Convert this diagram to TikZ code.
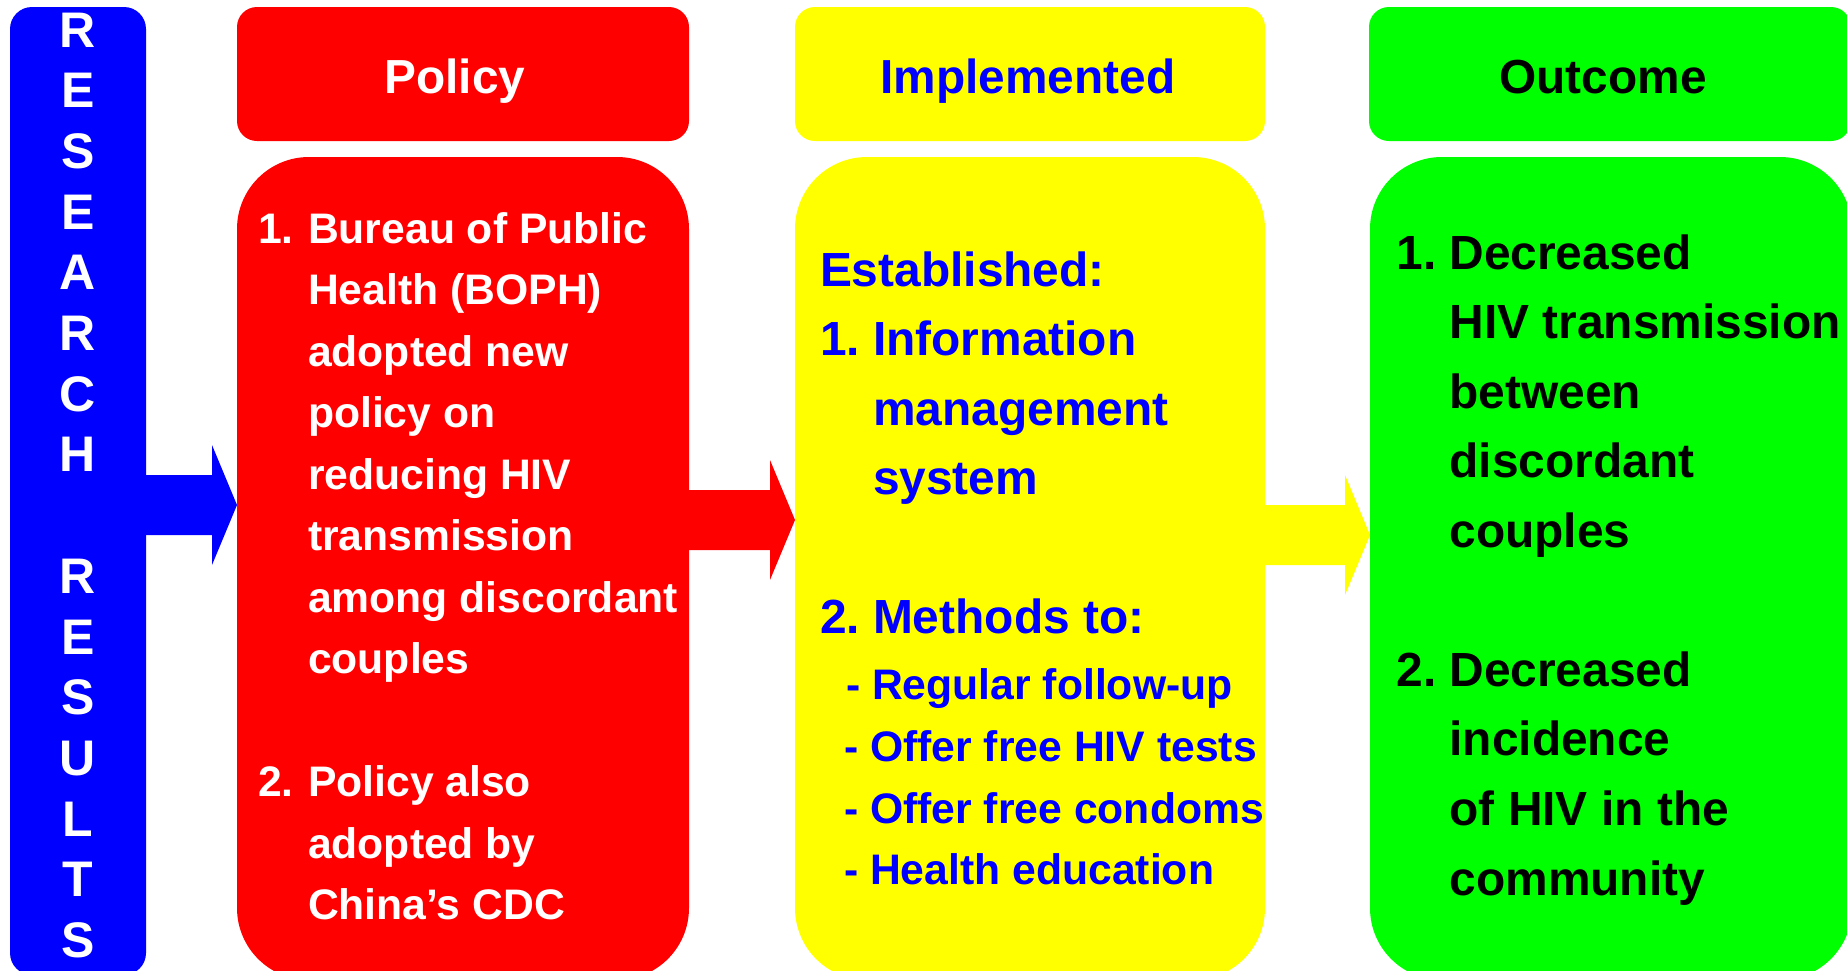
\documentclass[tikz,border=0pt]{standalone}
\usepackage{fontspec}
\setmainfont{Liberation Sans}
\usetikzlibrary{calc}
\definecolor{pred}{RGB}{255,0,0}
\definecolor{pyel}{RGB}{255,255,0}
\definecolor{pgrn}{RGB}{0,255,0}
\definecolor{pblu}{RGB}{0,0,255}
\newcommand\blockarr[4]{%
  \coordinate (#4s) at (#1.east |- 0,#3);
  \coordinate (#4e) at (#2.west |- 0,#3);
  \fill[#4col] ($(#4s)+(-1,-30)$) -- ($(#4e)+(-25,-30)$) -- ($(#4e)+(-25,-60)$) -- (#4e)
     -- ($(#4e)+(-25,60)$) -- ($(#4e)+(-25,30)$) -- ($(#4s)+(-1,30)$) -- cycle;}
\begin{document}
\begin{tikzpicture}[x=1pt,y=-1pt,
  box/.style={inner sep=0pt,outer sep=0pt,draw=none},
  hfont/.style={font=\fontsize{47.8}{57}\selectfont\bfseries},
  bfont/.style={font=\fontsize{47.9}{57}\selectfont\bfseries},
  sfont/.style={font=\fontsize{42.7}{50}\selectfont\bfseries},
  lfont/.style={font=\fontsize{50}{60}\selectfont\bfseries},
  ln/.style={anchor=base west,inner sep=0pt,outer sep=0pt},
  ttl/.style={anchor=base,inner sep=0pt,outer sep=0pt,hfont},
  a1col/.style={fill=pblu}, a2col/.style={fill=pred}, a3col/.style={fill=pyel}]
\useasboundingbox (0,0) rectangle (1847,970);
\clip (0,0) rectangle (1847,970);

% left bar
\node[box, fill=pblu, rounded corners=22, minimum width=136, minimum height=968] (bar) at (78,491) {};
\foreach \c [count=\i from 0] in {R,E,S,E,A,R,C,H,{},R,E,S,U,L,T,S}
  \node[anchor=base,inner sep=0pt,lfont,text=white] (lb\i) at (78,{47+60.7*\i}) {\c};

% headers
\node[box, fill=pred, rounded corners=20, minimum width=452, minimum height=134] (polhead) at (463,74) {};
\node[box, fill=pyel, rounded corners=20, minimum width=470, minimum height=134] (imphead) at (1030,74) {};
\node[box, fill=pgrn, rounded corners=20, minimum width=482, minimum height=134] (outhead) at (1610,74) {};
\node[ttl, text=white] (poltitle) at (455,93) {Policy};
\node[ttl, text=pblu] (imptitle) at (1028,93) {Implemented};
\node[ttl, text=black] (outtitle) at (1603,93) {Outcome};

% bodies
\node[box, fill=pred, rounded corners=72, minimum width=452, minimum height=823] (polbody) at (463,568.5) {};
\node[box, fill=pyel, rounded corners=72, minimum width=470, minimum height=823] (impbody) at (1030,568.5) {};
\node[box, fill=pgrn, rounded corners=72, minimum width=482, minimum height=823] (outbody) at (1611,568.5) {};

% arrows
\blockarr{bar}{polbody}{505}{a1}
\blockarr{polbody}{impbody}{520}{a2}
\blockarr{impbody}{outbody}{535}{a3}

% policy text
\node[ln, sfont, text=white] (pn1) at (258,243) {1.};
\foreach \t [count=\i from 0] in {Bureau of Public,Health (BOPH),adopted new,policy on,reducing HIV,transmission,among discordant,couples}
  \node[ln, sfont, text=white] (pa\i) at (308,{243+61.5*\i}) {\t};
\node[ln, sfont, text=white] (pn2) at (258,796.5) {2.};
\foreach \t [count=\i from 0] in {Policy also,adopted by,China’s CDC}
  \node[ln, sfont, text=white] (pb\i) at (308,{796.5+61.5*\i}) {\t};

% implemented text
\node[ln, bfont, text=pblu] (iest) at (820,286) {Established:};
\node[ln, bfont, text=pblu] (in1) at (820,355.5) {1.};
\foreach \t [count=\i from 0] in {Information,management,system}
  \node[ln, bfont, text=pblu] (ia\i) at (873,{355.5+69.5*\i}) {\t};
\node[ln, bfont, text=pblu] (in2) at (820,633.5) {2.};
\node[ln, bfont, text=pblu] (imeth) at (873,633.5) {Methods to:};
\node[ln, sfont, text=pblu] (is0) at (846,699.5) {- Regular follow-up};
\node[ln, sfont, text=pblu] (is1) at (844,761) {- Offer free HIV tests};
\node[ln, sfont, text=pblu] (is2) at (844,823) {- Offer free condoms};
\node[ln, sfont, text=pblu] (is3) at (844,884.5) {- Health education};

% outcome text
\node[ln, bfont, text=black] (on1) at (1396.5,269) {1.};
\foreach \t [count=\i from 0] in {Decreased,HIV transmission,between,discordant,couples}
  \node[ln, bfont, text=black] (oa\i) at (1449.5,{269+69.5*\i}) {\t};
\node[ln, bfont, text=black] (on2) at (1396.5,686) {2.};
\foreach \t [count=\i from 0] in {Decreased,incidence,of HIV in the,community}
  \node[ln, bfont, text=black] (ob\i) at (1449.5,{686+69.8*\i}) {\t};
\end{tikzpicture}
\end{document}
